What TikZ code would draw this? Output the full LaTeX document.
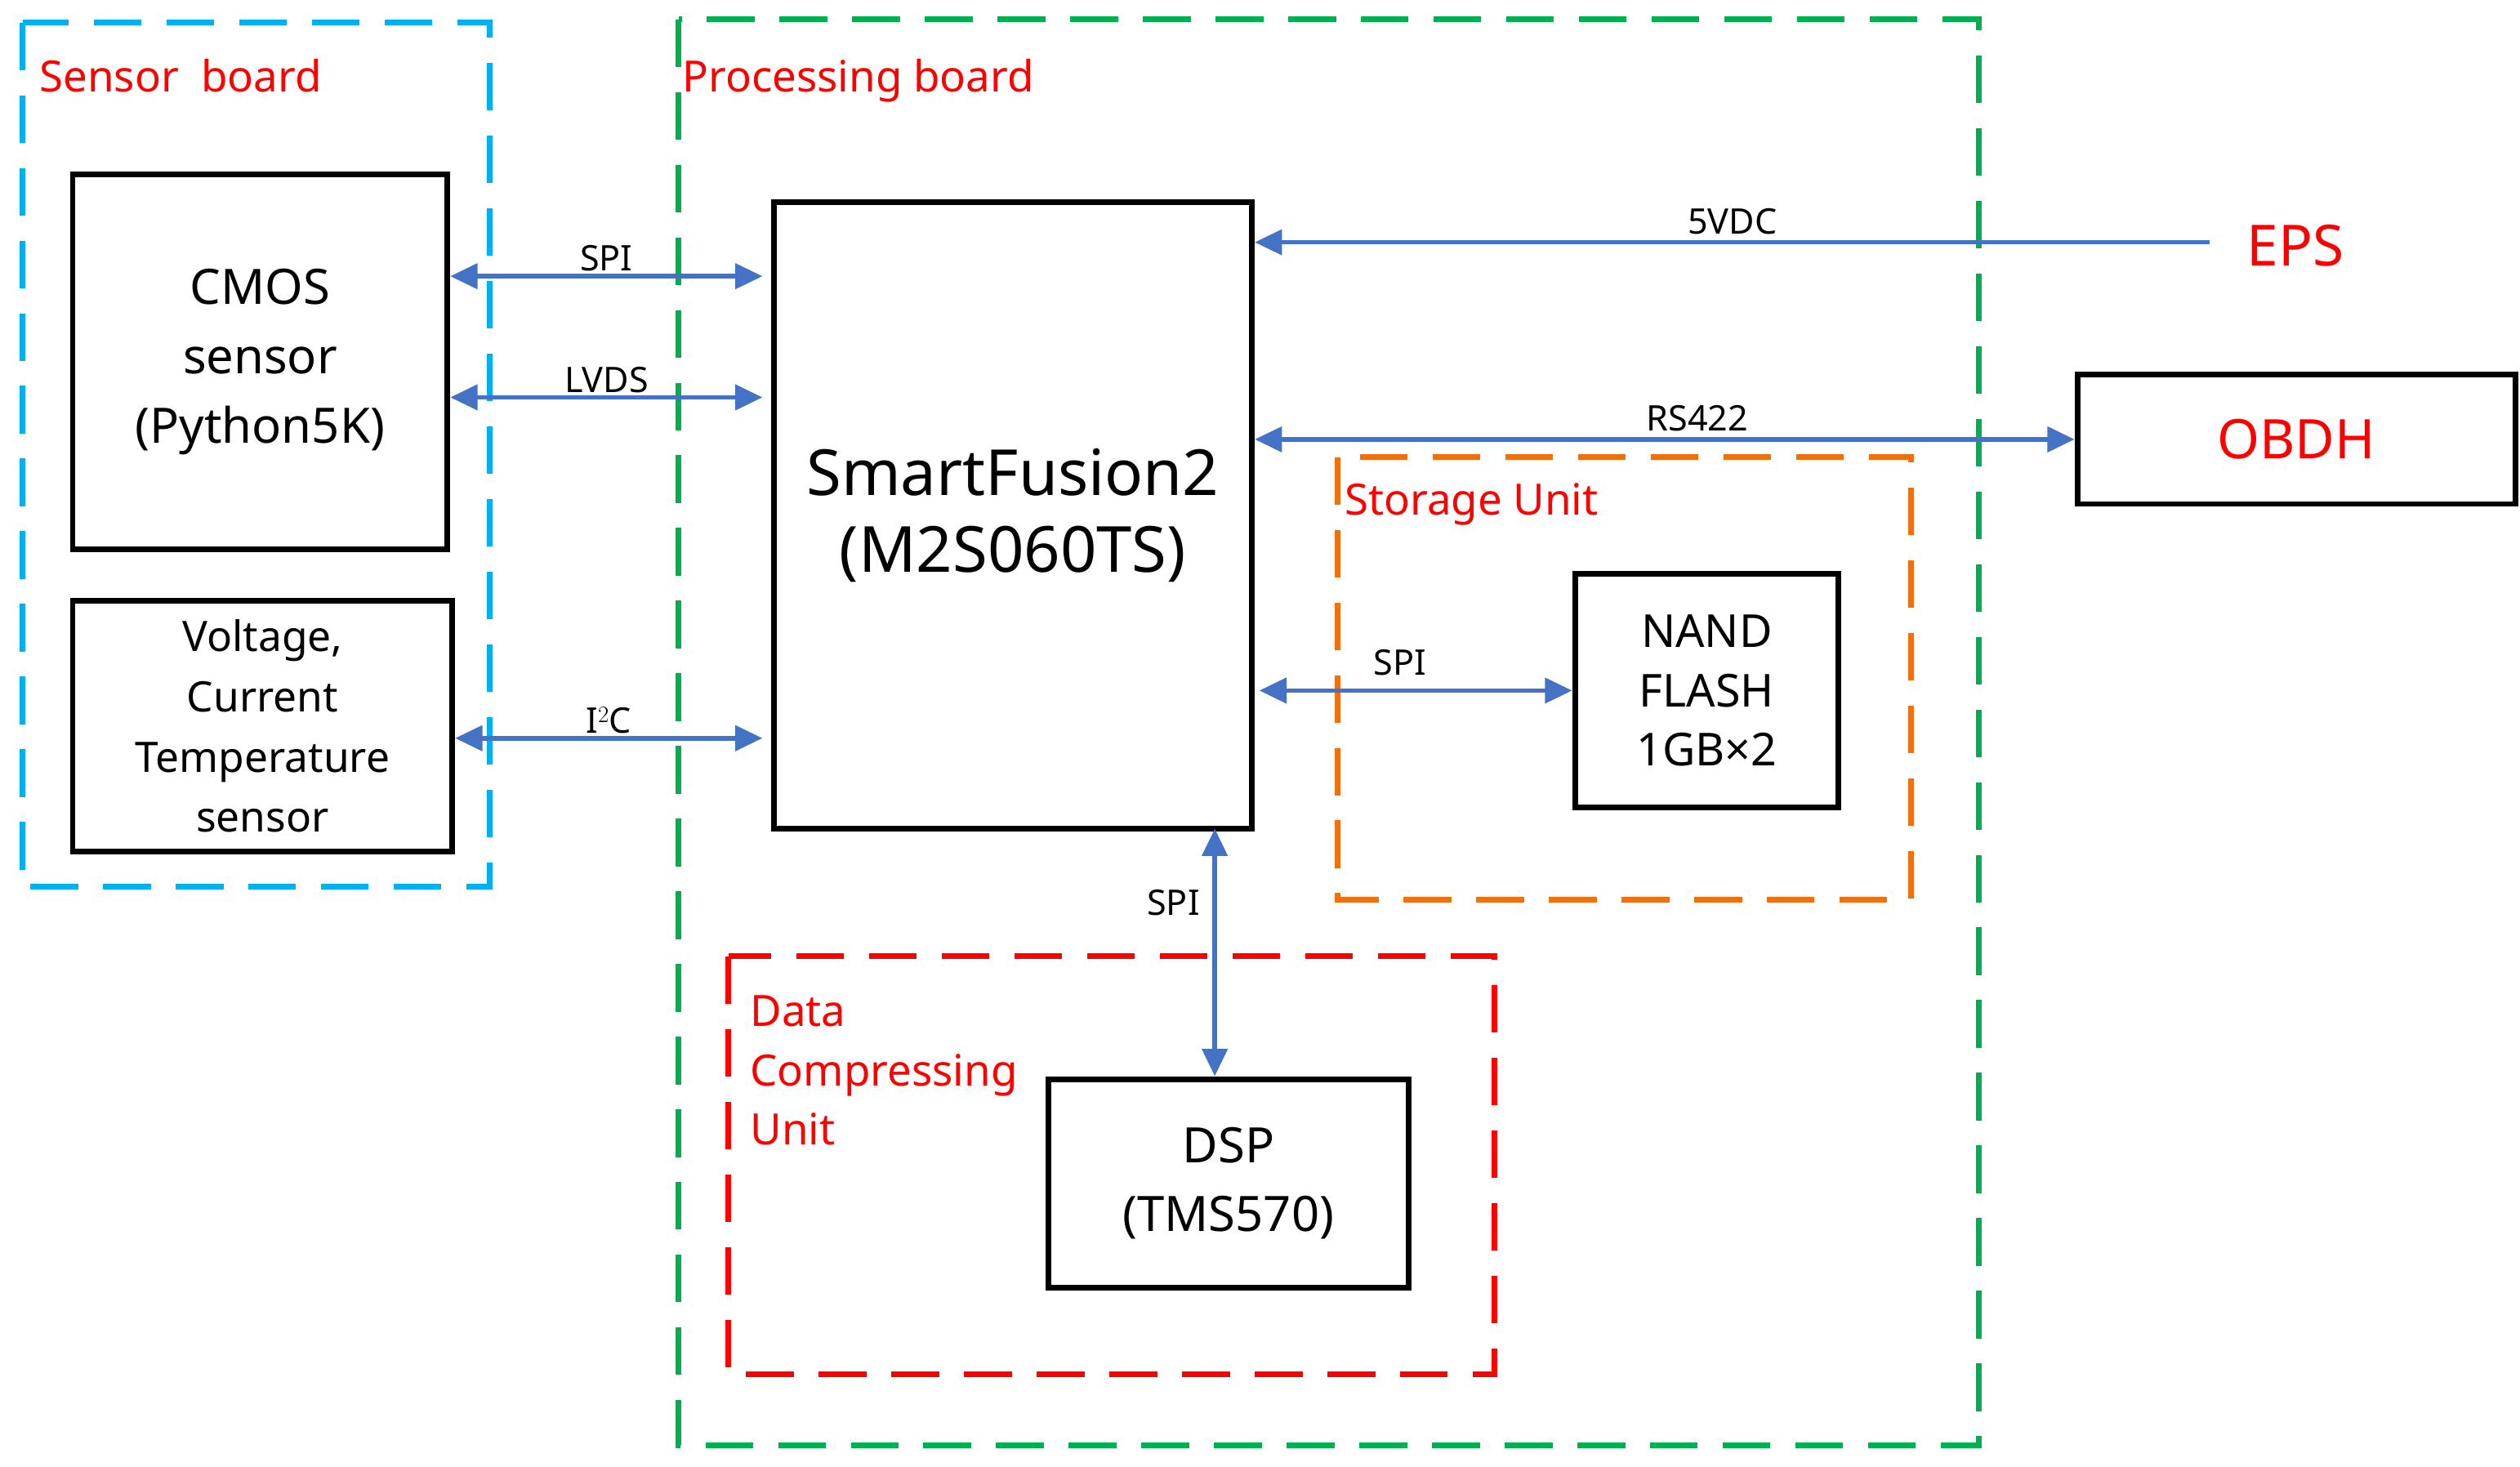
\documentclass[tikz,border=0pt]{standalone}
\usepackage{fontspec}
\setmainfont{Noto Sans}
\usetikzlibrary{arrows.meta}
\definecolor{ablue}{HTML}{4472C4}
\definecolor{sblue}{HTML}{00B0F0}
\definecolor{pgreen}{HTML}{00B050}
\definecolor{sorange}{HTML}{F07010}
\definecolor{dred}{HTML}{FF0000}
\begin{document}
\begin{tikzpicture}[x=0.05cm,y=-0.05cm,
 box/.style={draw,line width=5pt,inner sep=0},
 dbox/.style={line width=5pt,dash pattern=on 42pt off 22pt},
 arr/.style={ablue,line width=4pt,{Triangle[length=24pt,width=22pt]}-{Triangle[length=24pt,width=22pt]}},
 arr1/.style={ablue,line width=4pt,-{Triangle[length=24pt,width=22pt]}},
 lab/.style={text=black,font=\fontsize{31}{36}\selectfont},
 rlab/.style={text=dred,font=\fontsize{38}{46}\selectfont,anchor=west}]
\useasboundingbox (0,0) rectangle (1560,908);
\draw[dbox,sblue] (14,14) rectangle (303,549);
\draw[dbox,pgreen] (420,12) rectangle (1225,895);
\draw[dbox,sorange] (828,283) rectangle (1183,557);
\draw[dbox,dred] (451,592) rectangle (925,851);
\node[rlab] (sbl) at (22,47) {Sensor\ \ board};
\node[rlab] (pbl) at (420,50) {Processing board};
\node[rlab] (sul) at (830,312) {Storage Unit};
\node[rlab,align=left,anchor=north west,font=\fontsize{38}{52}\selectfont] (dcl) at (462,614) {Data\\Compressing\\Unit};
\node[box,minimum width=232*0.05cm,minimum height=232*0.05cm,align=center,font=\fontsize{43}{61}\selectfont] (cmos) at (161,224) {CMOS\\sensor\\(Python5K)};
\node[box,minimum width=235*0.05cm,minimum height=155*0.05cm,align=center,font=\fontsize{37}{53}\selectfont] (volt) at (162.5,449.5) {Voltage,\\Current\\Temperature\\sensor};
\node[box,minimum width=296*0.05cm,minimum height=388*0.05cm,align=center,font=\fontsize{56}{68}\selectfont] (sf) at (627,319) {SmartFusion2\\(M2S060TS)};
\node[box,minimum width=271*0.05cm,minimum height=80*0.05cm,text=dred,font=\fontsize{48}{58}\selectfont] (obdh) at (1421.5,272) {OBDH};
\node[box,minimum width=163*0.05cm,minimum height=145*0.05cm,align=center,font=\fontsize{40}{52}\selectfont] (nand) at (1056.5,427.5) {NAND\\FLASH\\1GB×2};
\node[box,minimum width=223*0.05cm,minimum height=129*0.05cm,align=center,font=\fontsize{43}{60}\selectfont] (dsp) at (760.5,732.5) {DSP\\(TMS570)};
\node[text=dred,font=\fontsize{50}{60}\selectfont] (eps) at (1421,152) {EPS};
\coordinate (epsl) at (1368,150);
\draw[arr1] (epsl) -- (sf.east |- epsl) node[lab,midway,above=2pt] {5VDC};
\draw[arr] (sf.east |- obdh.west) -- (obdh.west) node[lab,pos=0.54,above=2pt] {RS422};
\draw[arr] ([xshift=4pt]sf.east |- nand) -- (nand.west) node[lab,pos=0.45,above=8pt] {SPI};
\draw[arr] (752,513) -- (dsp.north -| 752,0) node[lab,pos=0.3,left=8pt] {SPI};
\draw[arr] (cmos.east |- 0,171) -- (472,171) node[lab,midway,above=-1pt] {SPI};
\draw[arr] (cmos.east |- 0,246) -- (472,246) node[lab,midway,above=-1pt] {LVDS};
\draw[arr] (volt.east |- 0,457) -- (472,457) node[lab,midway,above=-1pt] {I$^2$C};
\end{tikzpicture}
\end{document}
